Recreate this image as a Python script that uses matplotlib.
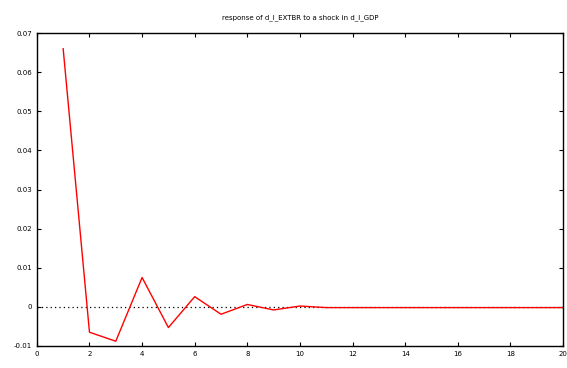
import matplotlib
matplotlib.use("Agg")
import matplotlib.pyplot as plt

periods = list(range(1, 21))
response = [0.066, -0.0065, -0.0088, 0.0075, -0.0053, 0.0026, -0.0019, 0.0006,
            -0.0008, 0.0002, -0.0002, -0.0002, -0.0002, -0.0002, -0.0002,
            -0.0002, -0.0002, -0.0002, -0.0002, -0.0002]

fig = plt.figure(figsize=(5.67, 3.68), dpi=100)
ax = fig.add_axes([0.065, 0.06, 0.928, 0.85])

ax.axhline(0, color="black", linestyle=(0, (1, 2.5)), linewidth=0.9)
ax.plot(periods, response, color="red", linewidth=1.0)

ax.set_xlim(0, 20)
ax.set_ylim(-0.01, 0.07)
ax.set_xticks(range(0, 21, 2))
ax.set_yticks([-0.01, 0, 0.01, 0.02, 0.03, 0.04, 0.05, 0.06, 0.07])
ax.set_yticklabels(["-0.01", "0", "0.01", "0.02", "0.03", "0.04", "0.05", "0.06", "0.07"])
ax.tick_params(direction="in", top=True, right=True, labelsize=5, length=3, width=0.8)
for s in ax.spines.values():
    s.set_linewidth(1.0)

ax.set_title("response of d_l_EXTBR to a shock in d_l_GDP", fontsize=5, pad=10)

fig.savefig("out.png", dpi=100)
